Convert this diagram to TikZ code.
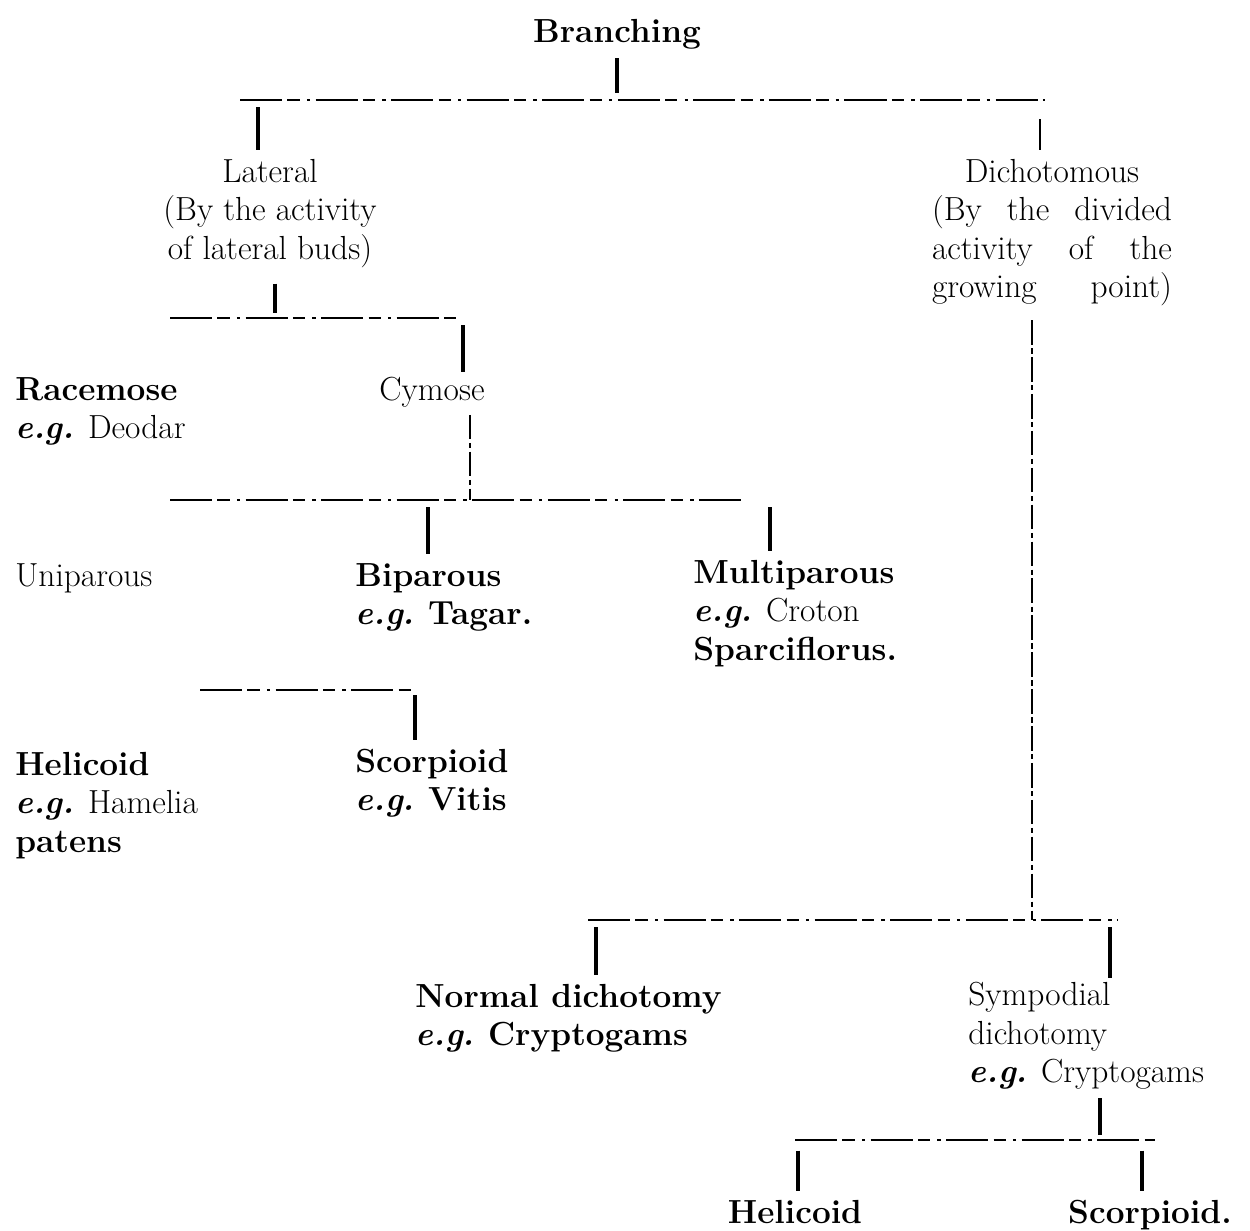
\documentclass[tikz,border=0pt]{standalone}
\usepackage{tikz}
\newcommand{\eg}{\textbf{\textit{e.g.}}}
\newcommand{\spread}[1]{\makebox[4.8cm][s]{#1}}
\tikzset{
  lbl/.style={inner sep=0pt, align=left, font=\fontsize{19}{21.8}\selectfont},
  hline/.style={line width=0.9pt, dash pattern=on 24pt off 3pt on 7pt off 4pt on 2pt off 3pt},
  tick/.style={line width=2pt, shorten <=4pt, shorten >=5pt},
  thinline/.style={line width=0.8pt, dash pattern=on 14pt off 2pt on 3pt off 2pt}
}
\begin{document}
\begin{tikzpicture}[x=0.02cm, y=-0.02cm]
  \useasboundingbox (0,0) rectangle (1250,1230);
  % top level
  \node[lbl, anchor=north, font=\fontsize{19}{21.8}\selectfont\bfseries] (br) at (617,19) {Branching};
  \coordinate (h1l) at (240,100);
  \coordinate (h1r) at (1045,100);
  \draw[hline] (h1l) -- (h1r);
  \draw[tick, shorten <=5pt, shorten >=4pt] (br.south) -- (br.south |- h1l);
  \node[lbl, anchor=north, align=center] (lat) at (270,159) {Lateral\\(By the activity\\of lateral buds)};
  \node[lbl, anchor=north, align=center] (dich) at (1052,159)
    {Dichotomous\\\spread{(By the divided}\\\spread{activity of the}\\\spread{growing point)}};
  \coordinate (tlat) at (258,100);
  \coordinate (tdich) at (1040,100);
  \draw[tick] (tlat) -- (tlat |- lat.north);
  \draw[tick, line width=1.4pt, shorten <=11pt] (tdich) -- (tdich |- dich.north);
  % lateral
  \coordinate (h2l) at (170,318);
  \coordinate (h2r) at (463,318);
  \draw[hline] (h2l) -- (h2r);
  \coordinate (tlat2) at (275,318);
  \draw[tick, shorten <=9pt, shorten >=3pt] (tlat2 |- lat.south) -- (tlat2);
  \node[lbl, anchor=north west] (rac) at (15,377) {\textbf{Racemose}\\\eg{} Deodar};
  \node[lbl, anchor=north] (cym) at (432,377) {Cymose};
  \coordinate (tcym) at (463,318);
  \draw[tick, shorten <=4pt, shorten >=3pt] (tcym) -- (tcym |- cym.north);
  % cymose
  \coordinate (h3c) at (470,500);
  \coordinate (h3l) at (170,500);
  \coordinate (h3r) at (745,500);
  \draw[thinline, shorten <=4pt] (h3c |- cym.south) -- (h3c);
  \draw[hline] (h3l) -- (h3r);
  \node[lbl, anchor=north west] (uni) at (15,563) {Uniparous};
  \node[lbl, anchor=north west] (bip) at (355,563) {\textbf{Biparous}\\\eg{} \textbf{Tagar.}};
  \node[lbl, anchor=north west] (mul) at (693,560) {\textbf{Multiparous}\\\eg{} Croton\\\textbf{Sparciflorus.}};
  \coordinate (tbip) at (428,500);
  \coordinate (tmul) at (770,500);
  \draw[tick] (tbip) -- (tbip |- bip.north);
  \draw[tick] (tmul) -- (tmul |- mul.north);
  % uniparous
  \coordinate (h4l) at (200,690);
  \coordinate (h4r) at (415,690);
  \draw[hline] (h4l) -- (h4r);
  \node[lbl, anchor=north west] (hel) at (15,752) {\textbf{Helicoid}\\\eg{} Hamelia\\\textbf{patens}};
  \node[lbl, anchor=north west] (sco) at (355,749) {\textbf{Scorpioid}\\\eg{} \textbf{Vitis}};
  \coordinate (tsco) at (415,690);
  \draw[tick, shorten <=3pt] (tsco) -- (tsco |- sco.north);
  % dichotomous
  \coordinate (tdl) at (1032,920);
  \draw[thinline, shorten <=8pt] (tdl |- dich.south) -- (tdl);
  \coordinate (h5l) at (588,920);
  \coordinate (h5r) at (1118,920);
  \draw[hline] (h5l) -- (h5r);
  \node[lbl, anchor=north west] (nor) at (415,984) {\textbf{Normal dichotomy}\\\eg{} \textbf{Cryptogams}};
  \node[lbl, anchor=north west] (sym) at (968,982) {Sympodial\\dichotomy\\\eg{} Cryptogams};
  \coordinate (tnor) at (596,920);
  \coordinate (tsym) at (1110,920);
  \draw[tick] (tnor) -- (tnor |- nor.north);
  \draw[tick, shorten >=2pt] (tsym) -- (tsym |- sym.north);
  % sympodial
  \coordinate (h6t) at (1100,1140);
  \coordinate (h6l) at (795,1140);
  \coordinate (h6r) at (1155,1140);
  \draw[tick, shorten <=5pt, shorten >=3pt] (h6t |- sym.south) -- (h6t);
  \draw[hline] (h6l) -- (h6r);
  \node[lbl, anchor=north, font=\fontsize{19}{21.8}\selectfont\bfseries] (hel2) at (795,1200) {Helicoid};
  \node[lbl, anchor=north, font=\fontsize{19}{21.8}\selectfont\bfseries] (sco2) at (1150,1200) {Scorpioid.};
  \coordinate (thel2) at (798,1140);
  \coordinate (tsco2) at (1142,1140);
  \draw[tick, shorten <=6pt] (thel2) -- (thel2 |- hel2.north);
  \draw[tick, shorten <=6pt] (tsco2) -- (tsco2 |- sco2.north);
\end{tikzpicture}
\end{document}
